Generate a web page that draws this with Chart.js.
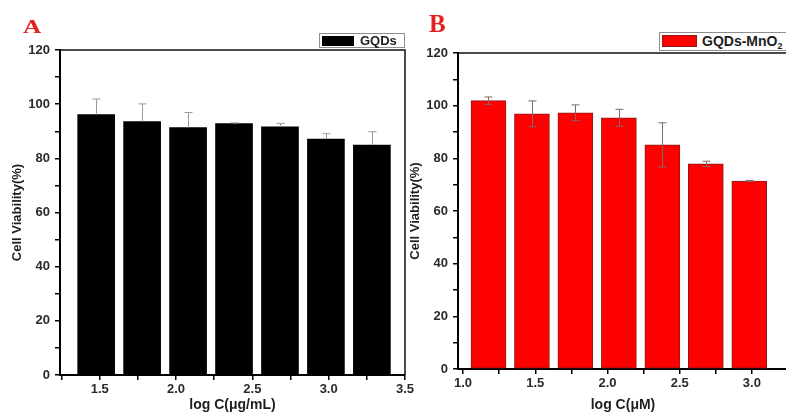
<!DOCTYPE html>
<html>
<head>
<meta charset="utf-8">
<script src="https://cdn.jsdelivr.net/npm/chart.js@4.4.0/dist/chart.umd.min.js"></script>
<style>
html, body { margin: 0; padding: 0; background: #fff; overflow: hidden; }
#wrap { position: relative; width: 786px; height: 414px; overflow: hidden; font-family: "Liberation Sans", Arial, sans-serif; }
canvas { position: absolute; top: 0; }
#chartA { left: 0; }
#chartB { left: 400px; }
.letter { position: absolute; font-family: "Liberation Serif", "Times New Roman", serif; font-weight: bold; color: #e3211f; line-height: 1; transform-origin: left top; }
.legend { position: absolute; box-sizing: border-box; border: 1px solid #8e8e8e; background: #fff; white-space: nowrap; }
.legend .swatch { position: absolute; box-sizing: border-box; }
.legend .label { position: absolute; font-weight: bold; color: #1e1e1e; line-height: 1; }
.legend sub { font-size: 9px; vertical-align: -3px; }
</style>
</head>
<body>
<div id="wrap">
  <canvas id="chartA" width="430" height="414"></canvas>
  <canvas id="chartB" width="400" height="414"></canvas>

  <div class="letter" style="left:23px; top:18px; font-size:18px; transform:scaleX(1.4);">A</div>
  <div class="letter" style="left:429px; top:11px; font-size:25px;">B</div>

  <div class="legend" style="left:319px; top:33px; width:86px; height:15px;">
    <div class="swatch" style="left:2px; top:2px; width:32px; height:10px; background:#000;"></div>
    <div class="label" style="left:40px; top:0px; font-size:13px;">GQDs</div>
  </div>
  <div class="legend" style="left:659px; top:32px; width:140px; height:19px;">
    <div class="swatch" style="left:2px; top:2px; width:35px; height:12px; background:#ff0000; border:1px solid #8b1a1a;"></div>
    <div class="label" style="left:42px; top:1px; font-size:14px;">GQDs-MnO<sub>2</sub></div>
  </div>
</div>

<script>
// Panel A: GQDs, x = log C (ug/mL)
const gqdsLogC = [1.477, 1.778, 2.079, 2.380, 2.681, 2.982, 3.283];
const gqdsViability = [96.2, 93.6, 91.4, 92.8, 91.6, 87.1, 84.9];
const gqdsError = [5.7, 6.5, 5.5, 0.3, 1.3, 2.0, 4.9];

// Panel B: GQDs-MnO2, x = log C (uM)
const mno2LogC = [1.176, 1.477, 1.778, 2.079, 2.380, 2.681, 2.982];
const mno2Viability = [101.9, 96.9, 97.3, 95.4, 85.1, 77.9, 71.4];
const mno2Error = [1.4, 4.9, 3.0, 3.2, 8.4, 1.0, 0.2];

// Tick positions (major ticks get labels, minor ticks don't)
const yTicks = [0, 10, 20, 30, 40, 50, 60, 70, 80, 90, 100, 110, 120];
const xTicksA = [1.25, 1.5, 1.75, 2.0, 2.25, 2.5, 2.75, 3.0, 3.25, 3.5];
const xTicksB = [1.0, 1.25, 1.5, 1.75, 2.0, 2.25, 2.5, 2.75, 3.0, 3.25];

const tickFont = { family: '"Liberation Sans", Arial, sans-serif', size: 13, weight: 'bold' };
const tickColor = '#2a2a2a';

// Error bars drawn through the chart's own scales
const errorBarPlugin = {
    id: 'errorBars',
    afterDatasetsDraw(chart, args, opts) {
        const { ctx, scales: { x, y } } = chart;
        const points = chart.data.datasets[0].data;
        ctx.save();
        ctx.strokeStyle = opts.color;
        ctx.lineWidth = 1;
        points.forEach((p, i) => {
            const e = opts.errors[i];
            const px = Math.round(x.getPixelForValue(p.x)) + 0.5;
            const top = y.getPixelForValue(p.y + e);
            const low = opts.both ? y.getPixelForValue(p.y - e) : y.getPixelForValue(p.y);
            ctx.beginPath();
            ctx.moveTo(px, top);
            ctx.lineTo(px, low);
            ctx.moveTo(px - 4, top);
            ctx.lineTo(px + 4, top);
            if (opts.both) {
                ctx.moveTo(px - 4, low);
                ctx.lineTo(px + 4, low);
            }
            ctx.stroke();
        });
        ctx.restore();
    }
};

// Top and right frame lines of the plot box
const framePlugin = {
    id: 'frame',
    afterDraw(chart) {
        const { ctx, chartArea: a } = chart;
        ctx.save();
        ctx.strokeStyle = '#111';
        ctx.lineWidth = 1.5;
        ctx.beginPath();
        ctx.moveTo(a.left, a.top);
        ctx.lineTo(a.right, a.top);
        ctx.lineTo(a.right, a.bottom);
        ctx.stroke();
        ctx.restore();
    }
};

function createPanel(canvasId, cfg) {
    const ctx = document.getElementById(canvasId).getContext('2d');
    return new Chart(ctx, {
        type: 'bar',
        data: {
            datasets: [{
                data: cfg.xs.map((v, i) => ({ x: v, y: cfg.ys[i] })),
                backgroundColor: cfg.fill,
                borderColor: cfg.border,
                borderWidth: cfg.borderWidth,
                borderSkipped: false,
                barThickness: cfg.barThickness
            }]
        },
        options: {
            responsive: false,
            animation: false,
            layout: { padding: cfg.padding },
            plugins: {
                legend: { display: false },
                tooltip: { enabled: false },
                errorBars: { errors: cfg.errors, both: cfg.bothErrors, color: cfg.errorColor }
            },
            scales: {
                x: {
                    type: 'linear',
                    min: cfg.xMin,
                    max: cfg.xMax,
                    offset: false,
                    afterBuildTicks: s => { s.ticks = cfg.xTicks.map(v => ({ value: v })); },
                    afterFit: s => { s.height = cfg.xAxisHeight; },
                    grid: { drawOnChartArea: false, offset: false, tickLength: 5, color: '#000', lineWidth: 1.5 },
                    border: { color: '#000', width: 2 },
                    ticks: {
                        autoSkip: false,
                        maxRotation: 0,
                        padding: 2,
                        font: tickFont,
                        color: tickColor,
                        callback: v => (v % 0.5 === 0 ? v.toFixed(1) : '')
                    },
                    title: {
                        display: true,
                        text: cfg.xTitle,
                        color: '#1e1e1e',
                        font: { family: '"Liberation Sans", Arial, sans-serif', size: 14, weight: 'bold' },
                        padding: { top: 0, bottom: 0 }
                    }
                },
                y: {
                    min: 0,
                    max: 120,
                    afterBuildTicks: s => { s.ticks = yTicks.map(v => ({ value: v })); },
                    afterFit: s => { s.width = cfg.yAxisWidth; },
                    grid: { drawOnChartArea: false, tickLength: 5, color: '#000', lineWidth: 1.5 },
                    border: { color: '#000', width: 2 },
                    ticks: {
                        padding: 5,
                        font: tickFont,
                        color: tickColor,
                        callback: v => (v % 20 === 0 ? v : '')
                    },
                    title: {
                        display: true,
                        text: 'Cell Viability(%)',
                        color: '#1e1e1e',
                        font: { family: '"Liberation Sans", Arial, sans-serif', size: 13, weight: 'bold' },
                        padding: { top: cfg.yTitlePad, bottom: 0 }
                    }
                }
            }
        },
        plugins: [errorBarPlugin, framePlugin]
    });
}

createPanel('chartA', {
    xs: gqdsLogC, ys: gqdsViability, errors: gqdsError,
    fill: '#000000', border: '#000000', borderWidth: 0, barThickness: 37,
    bothErrors: false, errorColor: '#9a9a9a',
    xMin: 1.24, xMax: 3.5, xTicks: xTicksA,
    xTitle: 'log C(\u03bcg/mL)',
    padding: { left: 0, top: 50, right: 25, bottom: 0 },
    xAxisHeight: 39, yAxisWidth: 60, yTitlePad: 10
});

createPanel('chartB', {
    xs: mno2LogC, ys: mno2Viability, errors: mno2Error,
    fill: '#ff0000', border: '#8b1a1a', borderWidth: 1, barThickness: 35,
    bothErrors: true, errorColor: '#7d6a6a',
    xMin: 0.965, xMax: 3.25, xTicks: xTicksB,
    xTitle: 'log C(\u03bcM)',
    padding: { left: 0, top: 53, right: 12, bottom: 0 },
    xAxisHeight: 45, yAxisWidth: 58, yTitlePad: 8
});
</script>
</body>
</html>
